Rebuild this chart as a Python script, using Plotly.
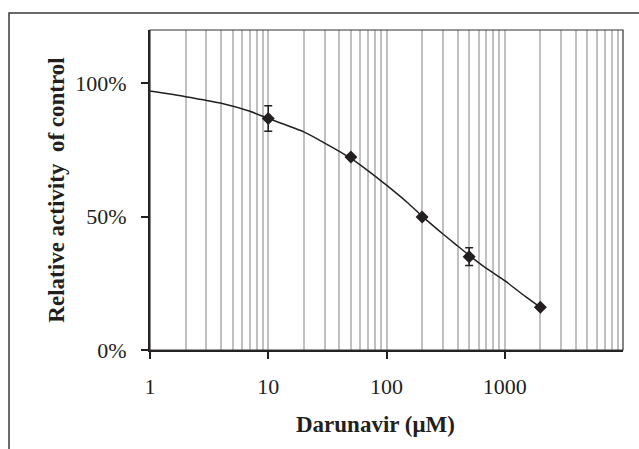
import plotly.graph_objects as go

# Measured data (Darunavir concentration in µM, relative activity)
conc = [10, 50, 200, 500, 2000]
activity = [0.868, 0.724, 0.499, 0.350, 0.160]
err = [0.048, 0.0, 0.0, 0.033, 0.0]

# Fitted curve
fit_x = [1, 2, 4, 7, 10, 20, 30, 50, 70, 100, 150, 200, 300, 400, 500, 700, 1000, 1500, 2000]
fit_y = [0.971, 0.950, 0.925, 0.895, 0.868, 0.818, 0.776, 0.719, 0.672, 0.618, 0.553,
         0.502, 0.435, 0.390, 0.355, 0.306, 0.260, 0.200, 0.160]

x_tickvals = [1, 10, 100, 1000]
x_ticktext = ["1", "10", "100", "1000"]
y_tickvals = [0, 0.5, 1.0]
y_ticktext = ["0%", "50%", "100%"]

ink = "#231f20"
font = "Liberation Serif, Times New Roman, serif"

fig = go.Figure()
fig.add_trace(go.Scatter(
    x=fit_x, y=fit_y, mode="lines",
    line=dict(color=ink, width=1.5, shape="spline", smoothing=0.6),
    hoverinfo="skip", showlegend=False))
fig.add_trace(go.Scatter(
    x=conc, y=activity, mode="markers",
    marker=dict(symbol="diamond", size=10, color=ink),
    error_y=dict(type="data", array=err, visible=True, color=ink, thickness=1.5, width=4),
    showlegend=False))

fig.update_layout(
    width=639, height=449,
    margin=dict(l=150, r=16, t=30, b=99),
    paper_bgcolor="white", plot_bgcolor="white",
    font=dict(family=font, size=22, color=ink),
    xaxis=dict(
        type="log", range=[0, 3.9999],
        tickmode="array", tickvals=x_tickvals, ticktext=x_ticktext,
        ticks="outside", ticklen=7, tickwidth=1.5, tickcolor=ink,
        ticklabelstandoff=9,
        showline=True, linecolor=ink, linewidth=2,
        showgrid=True, gridcolor="#c0c0c0", gridwidth=1.5,
        minor=dict(showgrid=True, gridcolor="#c0c0c0", gridwidth=1.5, ticks="", dtick="D1"),
        zeroline=False,
        tickfont=dict(size=22, family=font),
    ),
    yaxis=dict(
        range=[0, 1.2],
        tickmode="array", tickvals=y_tickvals, ticktext=y_ticktext,
        ticks="outside", ticklen=7, tickwidth=1.5, tickcolor=ink,
        ticklabelstandoff=10,
        showline=True, linecolor=ink, linewidth=2,
        showgrid=False, zeroline=False,
        title=dict(text="<b>Relative activity\u00a0 of control</b>", font=dict(size=23, family=font), standoff=4),
        tickfont=dict(size=22, family=font),
    ),
    annotations=[
        dict(text="<b>Darunavir (μM)</b>", xref="paper", yref="paper", x=0.4757, y=-0.234,
             xanchor="center", yanchor="middle", showarrow=False,
             font=dict(size=23, family=font, color=ink)),
    ],
    shapes=[
        dict(type="rect", xref="paper", yref="paper", x0=0, x1=1, y0=0, y1=1,
             line=dict(color="#333333", width=1.2), layer="above"),
        dict(type="rect", xref="paper", yref="paper", x0=-0.2981, x1=1.06, y0=-0.4, y1=1.0531,
             line=dict(color="#3a3a3a", width=1.5), layer="above"),
    ],
)

fig.write_html("out.html")
